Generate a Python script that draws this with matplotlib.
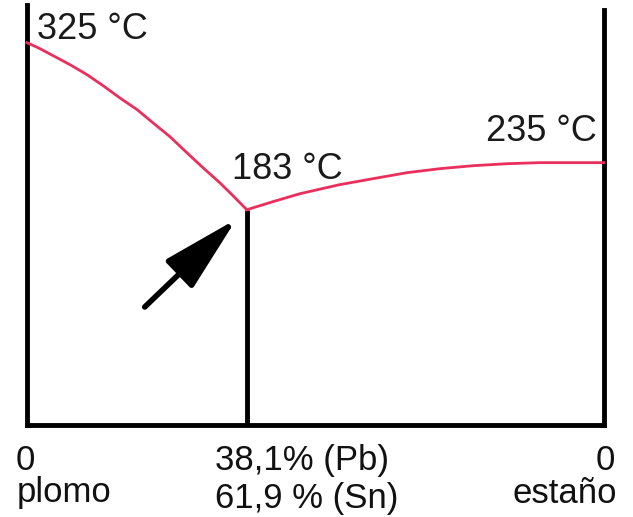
import matplotlib
matplotlib.use("Agg")
import matplotlib.pyplot as plt

# ─── DATA (schematic Pb-Sn diagram) ───────────────────────────────────────────
X_LEFT = [0, 2.25, 4.5, 7.45, 10.4, 13.2, 16.1, 19.1, 21.8, 24.8, 27.7,
          30.5, 33.4, 35.7, 38.1]                                  # % along axis
T_LEFT = [325, 319.9, 314, 306.3, 297.8, 288.4, 278, 268, 257, 245, 231.5,
          218.7, 206, 194.9, 183]                                  # liquidus (Pb side)
X_RIGHT = [38.1, 42.6, 47.3, 54.2, 60.0, 65.9, 71.6, 77.3, 83.2, 88.9, 94.5, 100]
T_RIGHT = [183, 189.8, 196.6, 204.3, 209.4, 214.5, 217.9, 220.4, 222.1, 223,
           223, 223]                                               # liquidus (Sn side)
EUTECTIC_X = 38.1
EUTECTIC_T = 183
Y_MAX = 357
RIGHT_TOP = 353

TEMP_LABELS = ["325 °C", "183 °C", "235 °C"]
BOTTOM_LEFT = ["0", "plomo"]
BOTTOM_MID = ["38,1% (Pb)", "61,9 % (Sn)"]
BOTTOM_RIGHT = ["0", "estaño"]
# ──────────────────────────────────────────────────────────────────────────────

RED = "#eb2f5c"
FONT = "Liberation Sans"

fig = plt.figure(figsize=(6.33, 5.17), dpi=100)
ax = fig.add_axes([27 / 633, 92 / 517, 577 / 633, 420 / 517])
ax.set_xlim(0, 100)
ax.set_ylim(0, Y_MAX)
ax.axis("off")

# frame lines: left, right, bottom, eutectic vertical
kw = dict(color="black", lw=3.5, clip_on=False, solid_capstyle="projecting")
ax.plot([0, 0], [0, Y_MAX], **kw)
ax.plot([100, 100], [0, RIGHT_TOP], **kw)
ax.plot([0, 100], [0, 0], **kw)
ax.plot([EUTECTIC_X, EUTECTIC_X], [0, EUTECTIC_T], color="black", lw=3.5,
        clip_on=False, solid_capstyle="butt")

# liquidus curves
ax.plot(X_LEFT, T_LEFT, color=RED, lw=2, clip_on=False, solid_joinstyle="round")
ax.plot(X_RIGHT, T_RIGHT, color=RED, lw=2, clip_on=False, solid_joinstyle="round")

# arrow pointing at the eutectic
ax.annotate("", xy=(36.3, 175.0), xytext=(20.4, 100.3),
            arrowprops=dict(arrowstyle="-|>,head_length=2.4,head_width=0.6",
                            lw=4, color="black", mutation_scale=20,
                            shrinkA=0, shrinkB=0))

tkw = dict(fontsize=26, family=FONT, color="#1a1a1a", va="baseline")
ax.text(1.7, 328, TEMP_LABELS[0], ha="left", **tkw)
ax.text(35.5, 209, TEMP_LABELS[1], ha="left", **tkw)
ax.text(98.8, 241.5, TEMP_LABELS[2], ha="right", **tkw)

bkw = dict(fontsize=25, family=FONT, color="#111111", va="baseline", clip_on=False)
ax.text(-1.9, -38.3, BOTTOM_LEFT[0], ha="left", **bkw)
ax.text(-1.7, -65.5, BOTTOM_LEFT[1], ha="left", **bkw)
ax.text(32.6, -38.3, BOTTOM_MID[0], ha="left", **bkw)
ax.text(32.6, -70.5, BOTTOM_MID[1], ha="left", **bkw)
ax.text(101.9, -38.3, BOTTOM_RIGHT[0], ha="right", **bkw)
ax.text(102.2, -66.0, BOTTOM_RIGHT[1], ha="right", **bkw)

fig.savefig("out.png", dpi=100)
